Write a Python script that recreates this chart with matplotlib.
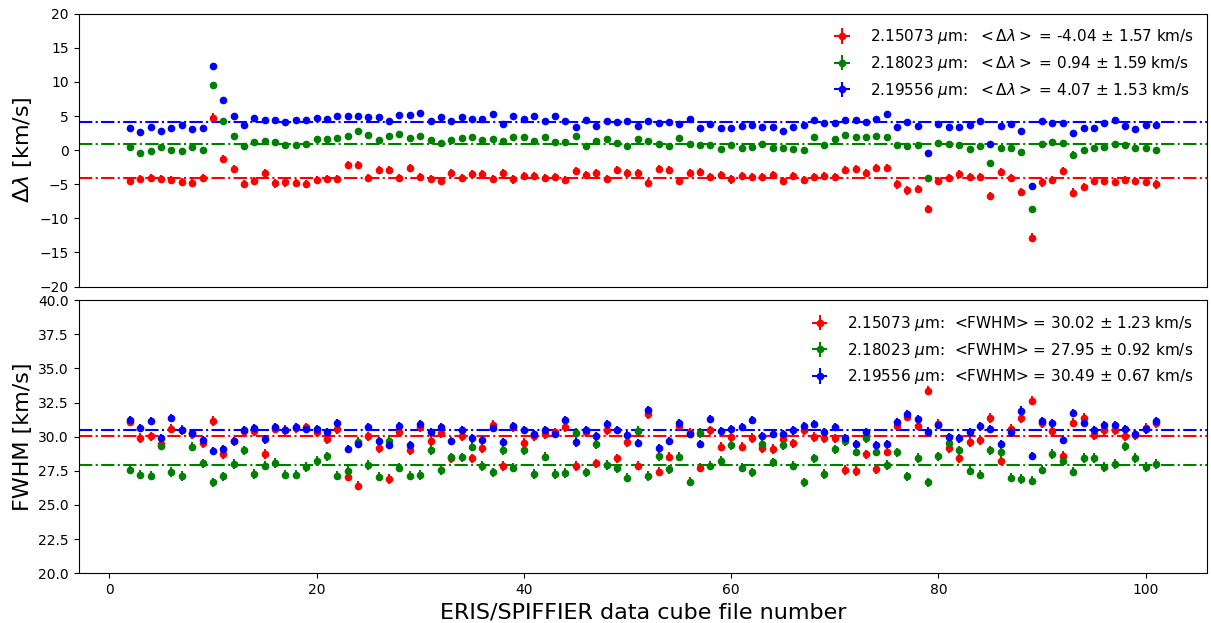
import numpy as np
import matplotlib.pyplot as plt

file_num = np.arange(2, 102)

# velocity offsets [km/s]
dv_215 = [-4.53, -4.24, -4.09, -4.24, -4.34, -4.68, -4.83, -4.14, 4.78, -1.33,
          -2.76, -4.93, -4.48, -3.35, -4.88, -4.73, -4.78, -4.93, -4.34, -4.19,
          -4.24, -2.22, -2.22, -4.09, -2.86, -2.86, -4.04, -2.61, -3.94, -4.19,
          -4.53, -3.30, -4.04, -3.50, -3.50, -4.19, -3.30, -4.29, -3.79, -3.79,
          -4.09, -3.94, -4.38, -3.05, -3.70, -3.30, -4.19, -2.86, -3.30, -3.40,
          -4.83, -2.81, -2.96, -4.58, -3.30, -3.25, -3.99, -3.70, -4.29, -3.79,
          -3.94, -3.94, -3.70, -4.48, -3.79, -4.38, -3.94, -3.84, -3.89, -2.86,
          -2.71, -3.35, -2.61, -2.61, -5.03, -5.91, -5.67, -8.62, -4.58, -4.04,
          -3.50, -3.94, -3.94, -6.70, -3.20, -4.04, -6.16, -12.81, -4.73, -4.43,
          -3.05, -6.21, -5.37, -4.53, -4.58, -4.63, -4.38, -4.48, -4.68, -5.03]
dv_218 = [0.40, -0.44, -0.09, 0.45, 0.00, -0.09, 0.40, -0.05, 9.56, 4.24,
          2.07, 0.64, 1.19, 1.38, 1.14, 0.74, 0.79, 0.94, 1.68, 1.63,
          1.83, 2.12, 2.81, 2.22, 1.48, 2.07, 2.42, 1.83, 2.07, 1.53,
          1.04, 1.48, 1.83, 1.88, 1.48, 1.63, 1.33, 1.88, 1.97, 1.28,
          1.97, 1.24, 1.24, 2.07, 0.55, 1.38, 1.58, 0.99, 0.55, 1.63,
          1.33, 0.89, 0.64, 1.73, 0.89, 0.74, 0.79, 0.15, 0.74, 0.35,
          0.40, 0.89, 0.35, 0.25, 0.15, 0.05, 1.93, 0.79, 1.63, 2.22,
          1.88, 1.93, 2.12, 1.88, 0.74, 0.64, 0.74, -4.04, 1.04, 0.89,
          0.74, 0.15, 0.64, -1.82, 0.30, 0.25, -0.29, -8.67, 0.84, 1.19,
          1.09, -0.64, 0.05, 0.30, 0.40, 0.84, 0.74, 0.25, 0.35, 0.05]
dv_219 = [3.23, 2.69, 3.33, 2.84, 3.23, 3.73, 3.13, 3.28, 12.35, 7.37,
          4.96, 3.63, 4.71, 4.46, 4.37, 4.07, 4.46, 4.37, 4.71, 4.51,
          5.00, 5.06, 4.96, 4.90, 4.90, 4.22, 5.15, 5.15, 5.45, 4.32,
          4.90, 4.32, 4.81, 4.56, 4.61, 5.30, 3.82, 4.96, 4.51, 5.00,
          4.32, 5.00, 4.32, 3.33, 4.41, 3.58, 4.27, 4.12, 4.22, 3.53,
          4.27, 4.02, 4.17, 3.82, 4.56, 3.18, 3.87, 3.18, 3.23, 3.48,
          3.68, 3.33, 3.33, 2.84, 3.33, 3.73, 4.41, 3.92, 3.97, 4.46,
          4.46, 4.17, 4.61, 5.25, 3.43, 4.17, 3.53, -0.36, 3.82, 3.33,
          3.43, 3.63, 4.27, 0.87, 3.48, 3.82, 2.84, -5.29, 4.22, 3.97,
          3.97, 2.54, 3.28, 3.28, 3.97, 4.41, 3.48, 3.08, 3.68, 3.63]

# line widths [km/s]
fw_215 = [31.10, 29.92, 30.02, 29.50, 30.60, 30.50, 30.20, 29.51, 31.14, 28.73,
          29.65, 30.40, 30.41, 28.75, 30.60, 30.50, 30.65, 30.68, 30.36, 29.80,
          30.55, 27.08, 26.42, 30.02, 29.14, 26.91, 30.36, 29.00, 30.73, 29.68,
          30.24, 28.41, 30.02, 28.41, 29.14, 30.85, 27.85, 30.70, 29.56, 30.07,
          30.17, 30.31, 30.70, 27.85, 30.36, 28.05, 30.48, 28.41, 29.58, 27.88,
          31.63, 27.44, 28.54, 30.77, 30.29, 27.73, 30.46, 29.27, 29.95, 29.27,
          29.92, 29.14, 29.10, 29.80, 29.51, 30.51, 29.97, 29.87, 29.87, 27.56,
          27.49, 28.71, 27.64, 28.90, 30.75, 31.48, 30.82, 33.38, 30.92, 29.17,
          28.41, 29.63, 29.73, 31.36, 28.24, 30.56, 31.36, 32.65, 31.00, 30.39,
          28.61, 31.04, 31.36, 30.14, 30.51, 30.46, 30.02, 30.14, 30.63, 31.00]
fw_218 = [27.59, 27.22, 27.15, 29.34, 27.42, 27.12, 29.27, 28.05, 26.66, 27.10,
          28.02, 29.00, 27.27, 27.88, 28.07, 27.22, 27.22, 27.76, 28.22, 28.56,
          27.15, 27.49, 29.63, 27.93, 27.08, 29.68, 27.73, 27.15, 27.20, 29.02,
          27.56, 28.49, 28.49, 29.27, 27.85, 27.39, 29.02, 27.73, 29.02, 27.27,
          28.54, 27.27, 27.34, 30.29, 27.39, 29.44, 27.93, 27.68, 27.00, 30.41,
          27.12, 28.58, 27.61, 28.54, 26.71, 30.29, 27.88, 28.22, 29.39, 27.73,
          27.39, 29.44, 28.12, 29.39, 27.88, 26.66, 28.41, 27.25, 29.07, 29.68,
          28.90, 29.87, 28.90, 27.93, 28.85, 27.10, 28.44, 26.66, 28.56, 29.53,
          29.00, 27.51, 27.22, 29.00, 28.85, 27.00, 26.91, 26.78, 27.59, 28.75,
          28.24, 27.44, 28.44, 28.44, 27.78, 28.02, 29.29, 28.44, 27.78, 28.00]
fw_219 = [31.21, 30.65, 31.14, 29.87, 31.36, 30.48, 30.24, 29.75, 28.95, 29.12,
          29.70, 30.51, 30.65, 29.80, 30.70, 30.48, 30.70, 30.58, 30.56, 30.36,
          31.00, 29.07, 29.44, 30.70, 29.68, 29.39, 30.75, 29.39, 30.90, 30.36,
          30.70, 29.68, 30.51, 29.87, 29.78, 30.65, 29.63, 30.80, 30.48, 30.17,
          30.51, 30.21, 31.19, 29.58, 30.51, 30.02, 30.94, 30.51, 30.12, 29.53,
          31.97, 29.14, 29.70, 31.00, 30.21, 29.46, 31.29, 30.43, 30.58, 30.73,
          31.24, 30.07, 30.19, 30.19, 30.46, 30.75, 30.94, 30.36, 30.70, 29.87,
          29.44, 30.31, 29.39, 29.48, 31.09, 31.67, 31.31, 30.38, 30.87, 29.97,
          29.87, 30.31, 30.80, 30.58, 29.48, 30.31, 31.92, 28.56, 31.14, 30.97,
          29.75, 31.75, 30.99, 30.46, 30.85, 30.85, 30.53, 30.21, 30.53, 31.16]

lines_um = ["2.15073", "2.18023", "2.19556"]
colors = ["red", "green", "blue"]
dv_mean = [-4.04, 0.94, 4.07]
dv_std = [1.57, 1.59, 1.53]
fw_mean = [30.02, 27.95, 30.49]
fw_std = [1.23, 0.92, 0.67]
dv_err = [0.6, 0.45, 0.3]
fw_err = [0.35, 0.35, 0.3]

fig, (ax1, ax2) = plt.subplots(2, 1, sharex=True, figsize=(12.11, 6.23))
plt.subplots_adjust(left=0.065, right=0.997, top=0.978, bottom=0.08, hspace=0.05)

for dv, fw, lam, c, m, s, fm, fs, de, fe in zip(
        [dv_215, dv_218, dv_219], [fw_215, fw_218, fw_219], lines_um, colors,
        dv_mean, dv_std, fw_mean, fw_std, dv_err, fw_err):
    ax1.errorbar(file_num, dv, yerr=de, xerr=0, fmt='o', color=c, ms=4.5, elinewidth=1.5,
                 label=r"%s $\mu$m:  $<\Delta\lambda>$ = %.2f $\pm$ %.2f km/s" % (lam, m, s))
    ax1.axhline(m, color=c, ls='-.', lw=1.5)
    ax2.errorbar(file_num, fw, yerr=fe, xerr=0, fmt='o', color=c, ms=4.5, elinewidth=1.5,
                 label=r"%s $\mu$m:  <FWHM> = %.2f $\pm$ %.2f km/s" % (lam, fm, fs))
    ax2.axhline(fm, color=c, ls='-.', lw=1.5)

ax1.set_ylim(-20, 20)
ax1.set_yticks(np.arange(-20, 21, 5))
ax1.set_ylabel(r"$\Delta\lambda$ [km/s]", fontsize=16)
ax1.tick_params(axis='x', bottom=False)
ax1.legend(loc='upper right', frameon=False, fontsize=11)

ax2.set_ylim(20, 40)
ax2.set_yticks(np.arange(20, 40.1, 2.5))
ax2.set_ylabel("FWHM [km/s]", fontsize=16)
ax2.set_xlabel("ERIS/SPIFFIER data cube file number", fontsize=16)
ax2.legend(loc='upper right', frameon=False, fontsize=11)

plt.savefig("out.png", dpi=100)
